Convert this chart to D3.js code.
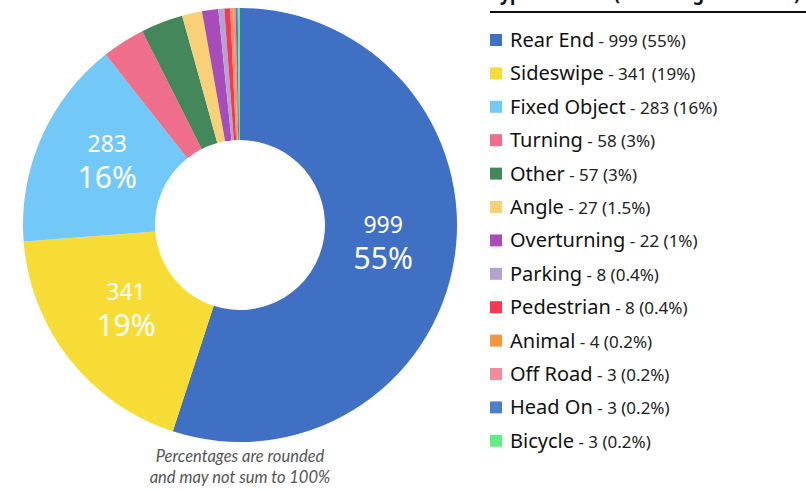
<!DOCTYPE html>
<html>
<head>
<meta charset="utf-8">
<title>Crash types donut</title>
<script src="https://d3js.org/d3.v7.min.js"></script>
<style>
  body { margin: 0; background: #fff; }
  svg { display: block; font-family: "Noto Sans", "Open Sans", sans-serif; }
  .slice_label { fill: #fff; text-anchor: middle; }
  .legend_name { font-size: 20px; fill: #111; }
  .legend_value { font-size: 17px; fill: #222; }
  .note { font-family: Lato, sans-serif; font-style: italic; font-size: 16.5px; fill: #555; text-anchor: middle; }
</style>
</head>
<body>
<div id="chart"></div>
<script>
// crash types, counts, shown percentages, colours
const types = ["Rear End", "Sideswipe", "Fixed Object", "Turning", "Other", "Angle", "Overturning",
               "Parking", "Pedestrian", "Animal", "Off Road", "Head On", "Bicycle"];
const counts = [999, 341, 283, 58, 57, 27, 22, 8, 8, 4, 3, 3, 3];
const pctLabels = ["55%", "19%", "16%", "3%", "3%", "1.5%", "1%", "0.4%", "0.4%", "0.2%", "0.2%", "0.2%", "0.2%"];
const colors = ["#4070c4", "#f7dc36", "#72c8f7", "#ee6e8c", "#43875a", "#f9cf77", "#a84cbc",
                "#b3a3d3", "#f33a52", "#f59640", "#f48a9c", "#4e7ecb", "#63ec84"];

const width = 806, height = 491;
const cx = 240, cy = 225, outerR = 217, innerR = 85;

const data = types.map((t, i) => ({type: t, count: counts[i], pct: pctLabels[i], color: colors[i]}));

const svg = d3.select("#chart").append("svg")
    .attr("width", width)
    .attr("height", height);

const pie = d3.pie().sort(null).value(d => d.count);
const arc = d3.arc().innerRadius(innerR).outerRadius(outerR);
// labels sit a bit inside the middle of the ring
const labelArc = d3.arc().innerRadius(145).outerRadius(145);

const g = svg.append("g").attr("transform", `translate(${cx},${cy})`);

const arcs = pie(data);

g.selectAll(".slice")
    .data(arcs)
    .enter()
    .append("path")
        .attr("class", "slice")
        .attr("d", arc)
        .attr("fill", d => d.data.color);

// labels only for the three big slices
const big = arcs.filter(d => d.data.count > 200);

g.selectAll(".num_label")
    .data(big)
    .enter()
    .append("text")
        .attr("class", "slice_label")
        .attr("x", d => labelArc.centroid(d)[0])
        .attr("y", d => labelArc.centroid(d)[1] - 15)
        .style("font-size", "23px")
        .text(d => d.data.count);

g.selectAll(".pct_label")
    .data(big)
    .enter()
    .append("text")
        .attr("class", "slice_label")
        .attr("x", d => labelArc.centroid(d)[0])
        .attr("y", d => labelArc.centroid(d)[1] + 21)
        .style("font-size", "30px")
        .text(d => d.data.pct);

// footnote
svg.append("text").attr("class", "note").attr("x", cx).attr("y", 462).text("Percentages are rounded");
svg.append("text").attr("class", "note").attr("x", cx).attr("y", 483).text("and may not sum to 100%");

// legend
const legendX = 490, legendY = 40, rowH = 33.4;

// title is cut off by the top edge, like in the original
svg.append("text")
    .attr("x", legendX)
    .attr("y", 0)
    .attr("textLength", 310)
    .attr("lengthAdjust", "spacingAndGlyphs")
    .style("font-size", "20px")
    .style("font-weight", "bold")
    .attr("fill", "#111")
    .text("Type of Crash (Including Unknown)");

svg.append("line")
    .attr("x1", legendX).attr("x2", width)
    .attr("y1", 12).attr("y2", 12)
    .attr("stroke", "#111").attr("stroke-width", 2);

const rows = svg.selectAll(".legend_row")
    .data(data)
    .enter()
    .append("g")
        .attr("class", "legend_row")
        .attr("transform", (d, i) => `translate(${legendX},${legendY + i * rowH})`);

rows.append("rect")
    .attr("x", 0).attr("y", -6)
    .attr("width", 12).attr("height", 12)
    .attr("fill", d => d.color);

const txt = rows.append("text")
    .attr("x", 20)
    .attr("y", 7);

txt.append("tspan").attr("class", "legend_name").text(d => d.type);
txt.append("tspan").attr("class", "legend_value").text(d => ` - ${d.count} (${d.pct})`);
</script>
</body>
</html>
